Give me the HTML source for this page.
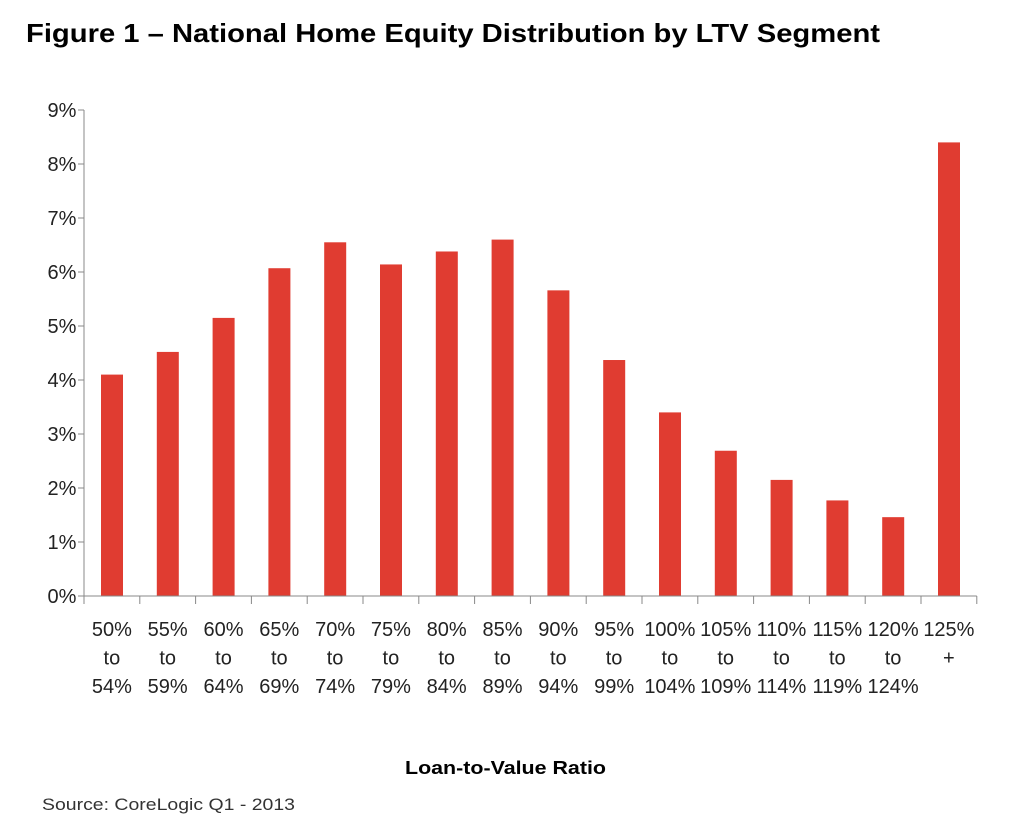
<!DOCTYPE html>
<html><head><meta charset="utf-8"><style>
body{margin:0;background:#fff;width:1018px;height:830px;overflow:hidden;font-family:"Liberation Sans",sans-serif}
</style></head><body>
<svg width="1018" height="830">
<text x="26" y="42" font-size="26" font-weight="bold" fill="#000" textLength="854" lengthAdjust="spacingAndGlyphs">Figure 1 – National Home Equity Distribution by LTV Segment</text>
<g id="plot"></g>
<text x="405" y="774" font-size="18" font-weight="bold" textLength="201" lengthAdjust="spacingAndGlyphs">Loan-to-Value Ratio</text>
<text x="42" y="810" font-size="17" fill="#333" textLength="253" lengthAdjust="spacingAndGlyphs">Source: CoreLogic Q1  - 2013</text>
</svg>
<script>
const categories=[["50%","to","54%"],["55%","to","59%"],["60%","to","64%"],["65%","to","69%"],["70%","to","74%"],["75%","to","79%"],["80%","to","84%"],["85%","to","89%"],["90%","to","94%"],["95%","to","99%"],["100%","to","104%"],["105%","to","109%"],["110%","to","114%"],["115%","to","119%"],["120%","to","124%"],["125%","+",""]];
const values=[4.1,4.52,5.15,6.07,6.55,6.14,6.38,6.6,5.66,4.37,3.4,2.69,2.15,1.77,1.46,8.4];
const yTicks=[0,1,2,3,4,5,6,7,8,9];
const NS="http://www.w3.org/2000/svg";
const g=document.getElementById('plot');
const x0=84,y0=596,yMax=9,plotH=486,band=55.8;
const yS=v=>y0-v/yMax*plotH;
const xS=i=>x0+i*band;
function mk(t,a,p){const e=document.createElementNS(NS,t);for(const k in a)e.setAttribute(k,a[k]);(p||g).appendChild(e);return e;}
yTicks.forEach(t=>{
 const l=mk('line',{x1:78,x2:x0,y1:yS(t),y2:yS(t),stroke:'#888'});
 
 
 const tx=mk('text',{x:62,y:yS(t)+7,'font-size':20,'text-anchor':'middle',fill:'#222'});
 tx.textContent=t+'%';
 
 
});
const ya=mk('line',{x1:x0,x2:x0,y1:yS(9),y2:y0,stroke:'#888'});


values.forEach((v,i)=>{
 const r=mk('rect',{x:xS(i)+17,y:yS(v),width:22,height:y0-yS(v),fill:'#e03c31'});
 
 
});
const xa=mk('line',{x1:x0,x2:xS(values.length),y1:y0,y2:y0,stroke:'#888'});


for(let i=0;i<=values.length;i++){
 const l=mk('line',{x1:xS(i),x2:xS(i),y1:y0,y2:y0+8,stroke:'#888'});
 
 
}
categories.forEach((c,i)=>{
 c.forEach((s,j)=>{
  const t=mk('text',{x:xS(i)+band/2,y:636+j*28.5,'font-size':20,'text-anchor':'middle',fill:'#222'});
  t.textContent=s;
  
  
 });
});
</script>
</body></html>
